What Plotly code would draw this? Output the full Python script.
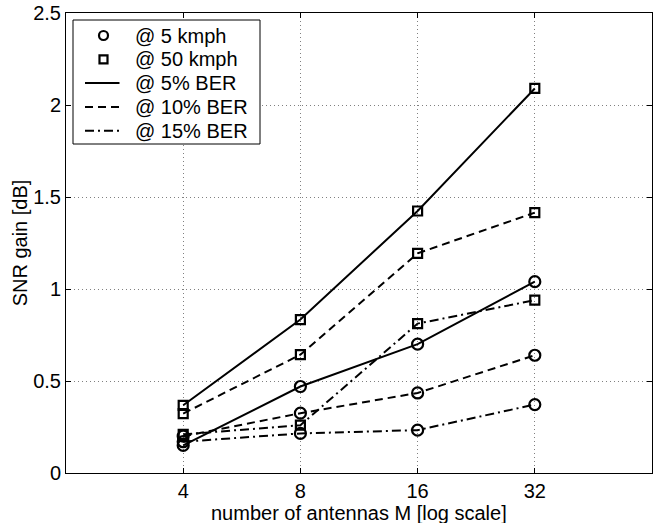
import plotly.graph_objects as go

antennas = [4, 8, 16, 32]

# SNR gain [dB]
slow_5ber = [0.15, 0.47, 0.70, 1.04]
slow_10ber = [0.20, 0.325, 0.435, 0.64]
slow_15ber = [0.17, 0.215, 0.233, 0.372]
fast_5ber = [0.368, 0.834, 1.424, 2.09]
fast_10ber = [0.323, 0.643, 1.194, 1.415]
fast_15ber = [0.21, 0.26, 0.812, 0.939]

legend_labels = ["@ 5 kmph", "@ 50 kmph", "@ 5% BER", "@ 10% BER", "@ 15% BER"]
tick_vals = [4, 8, 16, 32]

W, H = 657, 523
L, R, T, B = 66, 5, 13, 50
DASH = {"solid": "solid", "dash": "8px,5px", "dashdot": "9px,4px,2px,4px"}


def px_x(px):
    # pixel -> paper x
    return (px - L) / (W - L - R)


def px_y(py):
    # pixel -> paper y
    return (H - B - py) / (H - T - B)


fig = go.Figure()

curves = [
    (slow_5ber, "circle-open", "solid"),
    (slow_10ber, "circle-open", "dash"),
    (slow_15ber, "circle-open", "dashdot"),
    (fast_5ber, "square-open", "solid"),
    (fast_10ber, "square-open", "dash"),
    (fast_15ber, "square-open", "dashdot"),
]
for ys, sym, dash in curves:
    fig.add_trace(go.Scatter(
        x=antennas, y=ys, mode="lines+markers", showlegend=False,
        line=dict(color="black", width=2, dash=DASH[dash]),
        marker=dict(symbol=sym, size=11 if sym.startswith("circle") else 9,
                    color="black", line=dict(width=2.2, color="black")),
    ))

# legend drawn by hand so the rows are as tight as in the reference
shapes = [dict(type="rect", xref="paper", yref="paper",
               x0=px_x(73), x1=px_x(260), y0=px_y(144), y1=px_y(20),
               fillcolor="white", line=dict(color="black", width=1), layer="above")]
annotations = []
row_y = [35.5 + 23.8 * i for i in range(5)]
cx = 103.5
shapes.append(dict(type="circle", xref="paper", yref="paper",
                   x0=px_x(cx - 4.5), x1=px_x(cx + 4.5), y0=px_y(row_y[0] + 4.5), y1=px_y(row_y[0] - 4.5),
                   line=dict(color="black", width=2.2), layer="above"))
shapes.append(dict(type="rect", xref="paper", yref="paper",
                   x0=px_x(cx - 4), x1=px_x(cx + 4), y0=px_y(row_y[1] + 4), y1=px_y(row_y[1] - 4),
                   line=dict(color="black", width=2.2), layer="above"))
for ry, dash in zip(row_y[2:], ["solid", "dash", "dashdot"]):
    shapes.append(dict(type="line", xref="paper", yref="paper",
                       x0=px_x(85), x1=px_x(119.5), y0=px_y(ry), y1=px_y(ry),
                       line=dict(color="black", width=2, dash=DASH[dash]), layer="above"))
for ry, lbl in zip(row_y, legend_labels):
    annotations.append(dict(text=lbl, xref="paper", yref="paper", x=px_x(133), y=px_y(ry),
                            xanchor="left", yanchor="middle", showarrow=False,
                            font=dict(size=20, color="black")))

# x axis title placed by hand, baseline ~520px like the reference
annotations.append(dict(text="number of antennas M [log scale]", xref="paper", yref="paper",
                        x=0.5, y=px_y(513), xanchor="center", yanchor="middle",
                        showarrow=False, font=dict(size=20, color="black")))

axis_common = dict(
    showline=True, linecolor="black", linewidth=1, mirror="ticks",
    ticks="inside", ticklen=5, tickcolor="black",
    showgrid=True, gridcolor="#808080", gridwidth=1, griddash="1px,3px",
    zeroline=False, tickfont=dict(size=20, color="black"), automargin=False,
    ticklabeloverflow="allow",
)

fig.update_xaxes(type="log", range=[0.30103, 1.80618], tickvals=tick_vals,
                 ticktext=[str(v) for v in tick_vals],
                 **axis_common)
fig.update_yaxes(range=[0, 2.5], dtick=0.5, tickformat="~g",
                 title=dict(text="SNR gain [dB]", font=dict(size=20, color="black"), standoff=0),
                 **axis_common)

fig.update_layout(
    width=W, height=H,
    margin=dict(l=L, r=R, t=T, b=B),
    paper_bgcolor="white", plot_bgcolor="white",
    font=dict(family="Liberation Sans, Arial, sans-serif", color="black"),
    showlegend=False,
    shapes=shapes, annotations=annotations,
)

# drop the default 8px body margin so the figure sits at the window's corner
fig.write_html("out.html", config={"displayModeBar": False},
               post_script="document.body.style.margin='0';")
